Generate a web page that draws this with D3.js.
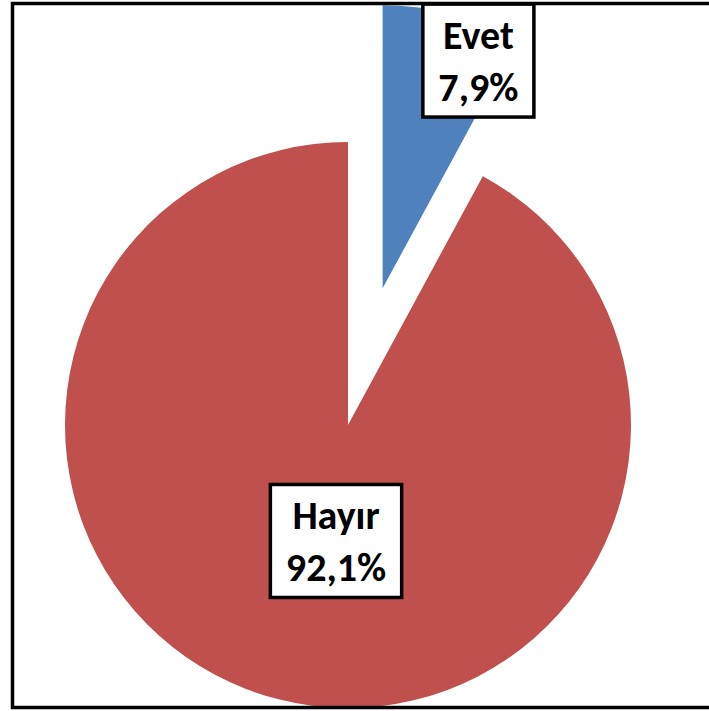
<!DOCTYPE html>
<html>
<head>
<meta charset="utf-8">
<script src="https://cdn.jsdelivr.net/npm/d3@7"></script>
<style>
  body { margin: 0; background: #fff; }
  svg { display: block; }
  .lbl { font-family: Calibri, Carlito, Lato, "Open Sans", sans-serif; font-weight: bold; font-size: 40px; fill: #000; }
</style>
</head>
<body>
<div id="chart"></div>
<script>
  // data
  const categories = ["Evet", "Hayır"];
  const values = [7.9, 92.1];
  const colors = ["#4F81BD", "#C0504D"];

  const width = 709, height = 711;
  const cx = 348, cy = 425, radius = 283;
  // blue slice is pulled out of the pie
  const explode = [141, 0];
  // where excel put the labels (angle in degrees, distance as part of radius)
  const labelPos = [{ a: 22.8, d: 0.873 }, { a: 185.9, d: 0.412 }];

  const svg = d3.select("#chart").append("svg")
    .attr("width", width)
    .attr("height", height);

  const pie = d3.pie().sort(null).value(d => d);
  const arc = d3.arc().innerRadius(0).outerRadius(radius);
  const arcs = pie(values);

  const g = svg.append("g").attr("transform", `translate(${cx},${cy})`);

  function shift(d, i) {
    const mid = (d.startAngle + d.endAngle) / 2;
    return [Math.sin(mid) * explode[i], -Math.cos(mid) * explode[i]];
  }

  const slices = g.selectAll("g.slice")
    .data(arcs)
    .enter()
    .append("g")
    .attr("class", "slice")
    .attr("transform", (d, i) => {
      const s = shift(d, i);
      return `translate(${s[0]},${s[1]})`;
    });

  slices.append("path")
    .attr("d", arc)
    .attr("fill", (d, i) => colors[i]);

  // labels with white boxes
  slices.each(function(d, i) {
    const a = labelPos[i].a * Math.PI / 180;
    const r = labelPos[i].d * radius;
    const lx = Math.sin(a) * r, ly = -Math.cos(a) * r;
    const lab = d3.select(this).append("g").attr("transform", `translate(${lx},${ly})`);
    const box = lab.append("rect")
      .attr("fill", "#fff")
      .attr("stroke", "#000")
      .attr("stroke-width", 3.5);
    const t = lab.append("text")
      .attr("class", "lbl")
      .attr("text-anchor", "middle");
    t.append("tspan").attr("x", 0).attr("y", -12).text(categories[i]);
    t.append("tspan").attr("x", 0).attr("y", 40)
      .text(d3.format(".1f")(values[i]).replace(".", ",") + "%");
    const bb = t.node().getBBox();
    const w = bb.width + 31, h = 113;
    box.attr("x", -w / 2).attr("y", -h / 2).attr("width", w).attr("height", h);
  });

  // chart frame
  svg.append("rect")
    .attr("x", 12.5)
    .attr("y", 3.5)
    .attr("width", 720)
    .attr("height", 704)
    .attr("fill", "none")
    .attr("stroke", "#000")
    .attr("stroke-width", 3.5);
</script>
</body>
</html>
